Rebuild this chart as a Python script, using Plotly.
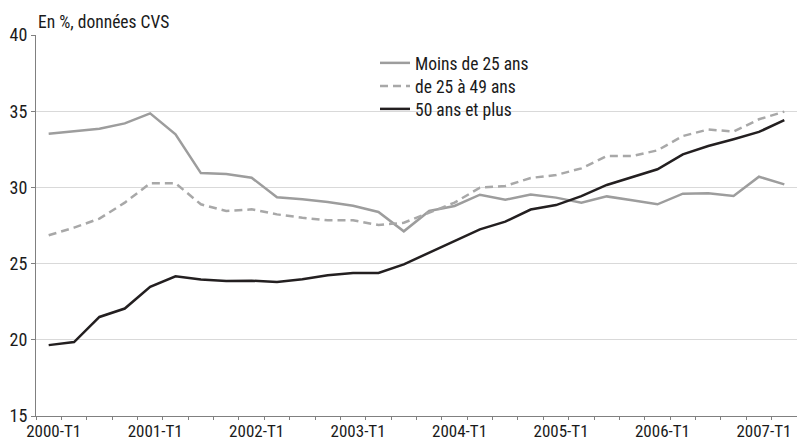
import plotly.graph_objects as go

quarters = [f"{y}-T{q}" for y in range(2000, 2008) for q in range(1, 5)][:30]
tick_labels = [q if q.endswith("T1") else "" for q in quarters]

moins_25 = [33.52, 33.7, 33.85, 34.2, 34.86, 33.48, 30.94, 30.88, 30.64, 29.35,
            29.22, 29.04, 28.8, 28.39, 27.12, 28.45, 28.78, 29.52, 29.19, 29.54,
            29.33, 29.0, 29.41, 29.15, 28.89, 29.59, 29.61, 29.44, 30.7, 30.2]
de_25_49 = [26.86, 27.36, 27.95, 29.0, 30.27, 30.27, 28.89, 28.45, 28.56, 28.23,
            28.01, 27.84, 27.84, 27.53, 27.68, 28.34, 29.0, 29.98, 30.09, 30.62,
            30.81, 31.25, 32.06, 32.06, 32.43, 33.37, 33.8, 33.66, 34.47, 34.97]
plus_50 = [19.65, 19.85, 21.5, 22.05, 23.47, 24.17, 23.95, 23.86, 23.88, 23.8,
           23.97, 24.23, 24.38, 24.38, 24.95, 25.72, 26.48, 27.25, 27.75, 28.55,
           28.84, 29.43, 30.16, 30.7, 31.19, 32.17, 32.72, 33.16, 33.64, 34.42]

series_names = ["Moins de 25 ans", "de 25 à 49 ans", "50 ans et plus"]

FONT = "Liberation Sans Narrow, Arial Narrow, Roboto Condensed, sans-serif"
TXT = "#1a1a1a"

fig = go.Figure()
fig.add_trace(go.Scatter(x=quarters, y=moins_25, name=series_names[0], mode="lines",
                         legend="legend",
                         line=dict(color="#9d9d9d", width=2.5)))
fig.add_trace(go.Scatter(x=quarters, y=de_25_49, name=series_names[1], mode="lines",
                         legend="legend2",
                         line=dict(color="#a8a8a8", width=2.5, dash="8px,5px")))
fig.add_trace(go.Scatter(x=quarters, y=plus_50, name=series_names[2], mode="lines",
                         legend="legend3",
                         line=dict(color="#231f20", width=2.5)))

PLOT_TOP, PLOT_BOTTOM = 35, 416
def py(pix):
    return (PLOT_BOTTOM - pix) / (PLOT_BOTTOM - PLOT_TOP)

LX = (375 - 36) / 761
def leg(ypix):
    return dict(x=LX, y=py(ypix), xref="paper", yref="paper",
                xanchor="left", yanchor="middle", bgcolor="rgba(0,0,0,0)",
                borderwidth=0, font=dict(family=FONT, size=17.5, color=TXT))

fig.update_layout(
    width=797, height=437,
    margin=dict(l=36, r=0, t=35, b=21, autoexpand=False),
    paper_bgcolor="white", plot_bgcolor="white",
    font=dict(family=FONT, size=17.5, color=TXT),
    showlegend=True,
    legend=leg(63), legend2=leg(86), legend3=leg(109),
    annotations=[dict(text="En %, données CVS", xref="paper", yref="paper",
                      x=0, y=1, xanchor="left", yanchor="bottom", yshift=1,
                      showarrow=False, font=dict(family=FONT, size=17.5, color=TXT))],
)
fig.update_xaxes(
    type="category", categoryorder="array", categoryarray=quarters,
    tickmode="array", tickvals=quarters, ticktext=tick_labels,
    tickson="boundaries", ticks="outside", ticklen=3, tickcolor="#808080",
    showline=True, linecolor="#808080", linewidth=1, tickangle=0, automargin=False,
    showgrid=False, range=[-0.5, 29.5], ticklabelshift=5, ticklabelstandoff=0,
    tickfont=dict(family=FONT, size=17, color=TXT),
)
fig.update_yaxes(
    range=[15, 40], tickvals=[15, 20, 25, 30, 35, 40],
    ticks="outside", ticklen=4, tickcolor="#808080", automargin=False,
    showline=True, linecolor="#808080", linewidth=1,
    showgrid=True, gridcolor="#d9d9d9", gridwidth=1, zeroline=False,
    tickfont=dict(family=FONT, size=18, color=TXT),
)

fig.write_html("out.html", config={"displayModeBar": False},
               post_script="document.body.style.margin='0';document.body.style.padding='0';")
